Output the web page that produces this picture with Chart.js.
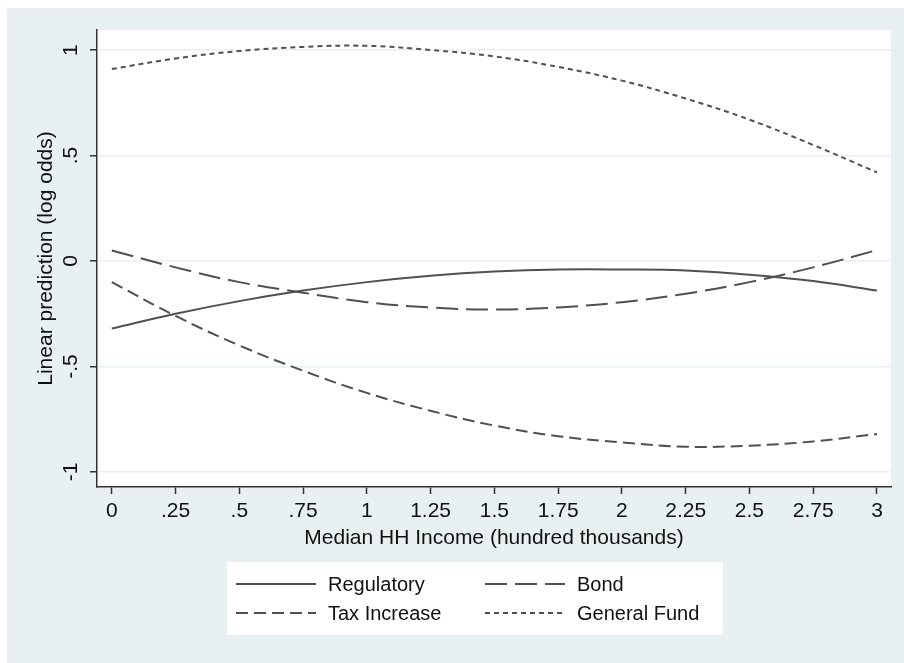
<!DOCTYPE html>
<html>
<head>
<meta charset="utf-8">
<script src="https://cdn.jsdelivr.net/npm/chart.js@4/dist/chart.umd.min.js"></script>
<style>
  html, body { margin: 0; padding: 0; background: #fff; }
  #wrap { width: 904px; height: 663px; position: relative; }
</style>
</head>
<body>
<div id="wrap"><canvas id="grafico" width="904" height="663"></canvas></div>
<script>
// Valores (renda em centenas de milhares)
const renda = [0, 0.25, 0.5, 0.75, 1, 1.25, 1.5, 1.75, 2, 2.25, 2.5, 2.75, 3];
const regulatory = [-0.32, -0.25, -0.19, -0.14, -0.10, -0.07, -0.05, -0.04, -0.04, -0.045, -0.065, -0.095, -0.14];
const bond = [0.05, -0.03, -0.10, -0.15, -0.195, -0.22, -0.23, -0.22, -0.195, -0.155, -0.10, -0.03, 0.052];
const taxIncrease = [-0.10, -0.26, -0.40, -0.52, -0.625, -0.71, -0.78, -0.83, -0.86, -0.88, -0.875, -0.855, -0.82];
const generalFund = [0.91, 0.96, 0.995, 1.015, 1.02, 1.0, 0.97, 0.92, 0.855, 0.77, 0.67, 0.55, 0.42];

const xTicks = [0, 0.25, 0.5, 0.75, 1, 1.25, 1.5, 1.75, 2, 2.25, 2.5, 2.75, 3];
const yTicks = [-1, -0.5, 0, 0.5, 1];

const FONTE = '"Liberation Sans", Arial, Helvetica, sans-serif';
const COR_LINHA = "#505050";
const COR_FUNDO = "#E8F0F2";

// formato Stata: .25 em vez de 0.25
const fmt = (v) => String(v).replace(/^(-?)0\./, "$1.");

const pares = (ys) => renda.map((x, i) => ({ x, y: ys[i] }));

function serie(label, ys, dash) {
  return {
    label,
    data: pares(ys),
    borderColor: COR_LINHA,
    borderWidth: 2,
    borderDash: dash,
    pointRadius: 0,
    tension: 0.4,
    fill: false,
  };
}

// Fundo, rótulos do eixo y, títulos e legenda
const decoracao = {
  id: "decoracao",
  beforeDraw(chart) {
    const { ctx, chartArea: a, width, height } = chart;
    ctx.save();
    ctx.fillStyle = "#fff";
    ctx.fillRect(0, 0, width, height);
    ctx.fillStyle = COR_FUNDO;
    ctx.fillRect(7, 8, width - 7, height - 8);
    ctx.fillStyle = "#fff";
    ctx.fillRect(a.left, a.top, a.right - a.left, a.bottom - a.top);
    ctx.restore();
  },
  afterDraw(chart) {
    const { ctx, chartArea: a } = chart;
    const y = chart.scales.y;
    ctx.save();
    ctx.fillStyle = "#111";
    ctx.font = "21px " + FONTE;
    ctx.textAlign = "center";
    ctx.textBaseline = "middle";
    y.ticks.forEach((t) => {
      const py = y.getPixelForValue(t.value);
      ctx.save();
      ctx.translate(71, py);
      ctx.rotate(-Math.PI / 2);
      ctx.fillText(fmt(t.value), 0, 0);
      ctx.restore();
    });

    // títulos dos eixos
    ctx.save();
    ctx.translate(46, (a.top + a.bottom) / 2);
    ctx.rotate(-Math.PI / 2);
    ctx.fillText("Linear prediction (log odds)", 0, 0);
    ctx.restore();
    ctx.fillText("Median HH Income (hundred thousands)", (a.left + a.right) / 2, 538);

    // legenda
    const caixa = { x: 227, y: 562, w: 496, h: 73 };
    ctx.fillStyle = "#fff";
    ctx.fillRect(caixa.x, caixa.y, caixa.w, caixa.h);
    const pos = [
      { x: 236, y: 584 }, { x: 485, y: 584 },
      { x: 236, y: 613 }, { x: 485, y: 613 },
    ];
    ctx.font = "20px " + FONTE;
    chart.data.datasets.forEach((ds, k) => {
      const p = pos[k];
      ctx.strokeStyle = ds.borderColor;
      ctx.lineWidth = 2;
      ctx.setLineDash(ds.borderDash || []);
      ctx.beginPath();
      ctx.moveTo(p.x, p.y);
      ctx.lineTo(p.x + 80, p.y);
      ctx.stroke();
      ctx.setLineDash([]);
      ctx.fillStyle = "#111";
      ctx.textAlign = "left";
      ctx.fillText(ds.label, p.x + 92, p.y + 1);
    });
    ctx.restore();
  },
};

new Chart(document.getElementById("grafico"), {
  type: "line",
  data: {
    datasets: [
      serie("Regulatory", regulatory, []),
      serie("Bond", bond, [22, 8]),
      serie("Tax Increase", taxIncrease, [12, 6]),
      serie("General Fund", generalFund, [5, 4]),
    ],
  },
  options: {
    responsive: false,
    animation: false,
    layout: { padding: { left: 0, top: 30, right: 13, bottom: 0 } },
    plugins: { legend: { display: false }, tooltip: { enabled: false } },
    scales: {
      x: {
        type: "linear",
        min: -0.058,
        max: 3.055,
        afterFit: (s) => { s.height = 176; },
        afterBuildTicks: (s) => { s.ticks = xTicks.map((v) => ({ value: v })); },
        grid: { drawOnChartArea: false, drawTicks: true, tickLength: 7, tickColor: "#333", tickWidth: 1.5 },
        border: { display: true, color: "#333", width: 1.5 },
        ticks: {
          color: "#111",
          font: { family: FONTE, size: 21 },
          padding: 5,
          maxRotation: 0,
          autoSkip: false,
          callback: (v) => fmt(v),
        },
      },
      y: {
        type: "linear",
        min: -1.071,
        max: 1.095,
        afterFit: (s) => { s.width = 97; },
        afterBuildTicks: (s) => { s.ticks = yTicks.map((v) => ({ value: v })); },
        grid: { color: COR_FUNDO, lineWidth: 1.5, drawTicks: true, tickLength: 7, tickColor: "#333", tickWidth: 1.5 },
        border: { display: true, color: "#333", width: 1.5 },
        ticks: { display: false },
      },
    },
  },
  plugins: [decoracao],
});
</script>
</body>
</html>
